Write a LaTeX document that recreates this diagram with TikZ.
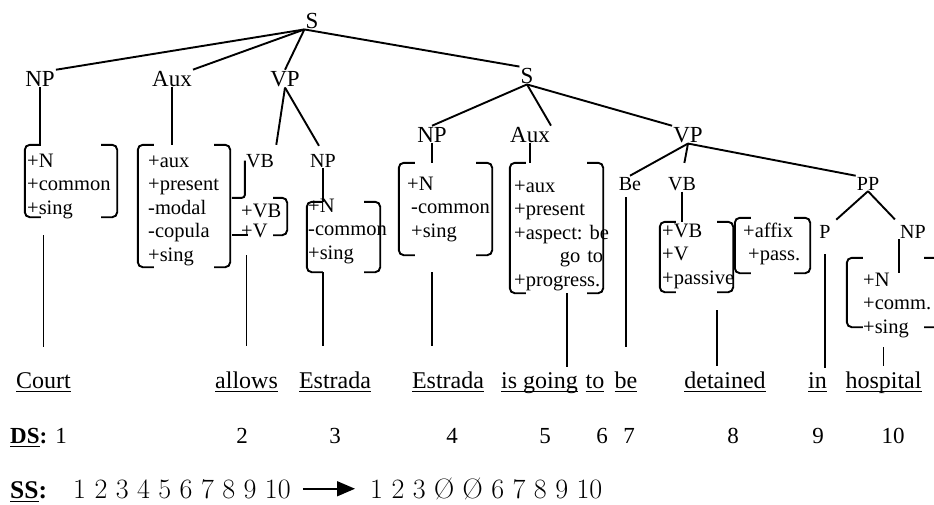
\documentclass[tikz,border=0pt]{standalone}
\usepackage{amsmath}
\usepackage{fontspec}
\newfontfamily\tnr{Liberation Serif}
\usetikzlibrary{fit,calc,arrows.meta}

\newcommand{\ulword}[1]{\underline{\smash[b]{#1}}}
\newcommand{\brackets}[1]{%
    \draw[brk] ([xshift=16pt]#1.north west) -- (#1.north west)
        -- (#1.south west) -- ([xshift=16pt]#1.south west);
    \draw[brk] ([xshift=-16pt]#1.north east) -- (#1.north east)
        -- (#1.south east) -- ([xshift=-16pt]#1.south east);}

\tikzset{
    tree/.style={line width=1.9pt},
    brk/.style={line width=1.9pt, rounded corners=5pt},
    lab/.style={font=\tnr\fontsize{23}{23}\selectfont, inner sep=1pt, anchor=base},
    sublab/.style={lab, font=\tnr\fontsize{20}{20}\selectfont},
    feat/.style={font=\tnr\fontsize{20.5}{23.5}\selectfont, align=left, text width=100pt,
        inner sep=0pt, anchor=north west, execute at begin node=\strut},
    featframe/.style={inner sep=0pt},
    word/.style={font=\tnr\fontsize{24}{24}\selectfont, inner sep=0pt, anchor=base},
    ds/.style={font=\tnr\fontsize{23}{23}\selectfont, inner sep=0pt, anchor=base},
    ss/.style={font=\fontsize{28}{28}\selectfont, inner sep=0pt, anchor=base west}
}

\begin{document}
\begin{tikzpicture}[x=1pt, y=-1pt]
    \useasboundingbox (0,0) rectangle (934,504);

    % tree labels
    \node[lab] (s) at (312,28) {S};
    \node[lab] (np) at (40,86) {NP};
    \node[lab] (aux) at (172,86) {Aux};
    \node[lab] (vp) at (285,86) {VP};
    \node[lab] (s2) at (527,83) {S};
    \node[sublab] (vb) at (260,167) {VB};
    \node[sublab] (npb) at (323,167) {NP};
    \node[lab] (np2) at (432,142) {NP};
    \node[lab] (aux2) at (530,142) {Aux};
    \node[lab] (vp2) at (688,142) {VP};
    \node[sublab] (Be) at (630,190) {Be};
    \node[sublab] (vb2) at (682,190) {VB};
    \node[sublab] (pp) at (868,190) {PP};
    \node[sublab] (p) at (825,238) {P};
    \node[sublab] (np3) at (913,238) {NP};

    \draw[tree] (s.south west) -- (np.north east);
    \draw[tree] (s.south west) -- (aux.north east);
    \draw[tree] (s.south west) -- (vp.north);
    \draw[tree] (s.south west) -- (s2.north west);
    \draw[tree, shorten >=8pt] (vp.south) -- (vb.north east);
    \draw[tree, shorten >=8pt] (vp.south) -- (npb.north);
    \draw[tree] (s2.south) -- (np2.north);
    \draw[tree] (s2.south) -- (aux2.north east);
    \draw[tree] (s2.south) -- (vp2.north west);
    \draw[tree] (vp2.south) -- (Be.north);
    \draw[tree, shorten >=13pt] (vp2.south) -- (vb2.north);
    \draw[tree] (vp2.south) -- (pp.north west);
    \draw[tree, shorten >=6pt] (pp.south) -- (p.north east);
    \draw[tree, shorten >=6pt] (pp.south) -- (np3.north west);

    % feature bundles
    \node[featframe, fit={(25,145) (117,217)}] (npB) {};
    \node[featframe, fit={(138,145) (230,267)}] (auxB) {};
    \node[featframe, fit={(232,198) (287,235)}] (vbB) {};
    \node[featframe, fit={(307,202) (380,272)}] (npbB) {};
    \node[featframe, fit={(399,163) (492,255)}] (np2B) {};
    \node[featframe, fit={(510,163) (603,293)}] (aux2B) {};
    \node[featframe, fit={(660,222) (733,292)}] (vb2B) {};
    \node[featframe, fit={(735,218) (810,273)}] (affB) {};
    \node[featframe, fit={(847,258) (940,327)}] (np3B) {};
    \brackets{npB}
    \brackets{auxB}
    \brackets{npbB}
    \brackets{np2B}
    \brackets{aux2B}
    \brackets{vb2B}
    \brackets{affB}
    \brackets{np3B}
    \draw[brk] ([xshift=-14pt]vbB.north east) -- (vbB.north east)
        -- (vbB.south east) -- ([xshift=-14pt]vbB.south east);
    \draw[brk] (vbB.south west) -- ([xshift=16pt]vbB.south west);

    \node[feat] (npT) at (27,150.5) {+N\\+common\\+sing};
    \node[feat] (auxT) at (148,150.5) {+aux\\+present\\-modal\\-copula\\+sing};
    \node[feat, font=\tnr\fontsize{20.5}{20}\selectfont] (vbT) at (241,203) {+VB\\+V};
    \node[feat] (npbT) at (308,195.5) {+N\\-common\\+sing};
    \node[feat] (np2T) at (407,173.5) {+N\\\hspace*{4pt}-common\\\hspace*{4pt}+sing};
    \node[feat, text width=89pt] (aux2T) at (514,175.5)
        {+aux\\+present\\+aspect:~be\\\hspace*{\fill}go~to\\+progress.};
    \node[feat] (vb2T) at (662,220.5) {+VB\\+V\\+passive};
    \node[feat] (affT) at (743,220.5) {+affix\\\hspace*{5pt}+pass.};
    \node[feat] (np3T) at (863,269.5) {+N\\+comm.\\+sing};

    \draw[tree] (np) -- (np |- npB.north);
    \draw[tree] (aux) -- (aux |- auxB.north);
    \draw[tree, rounded corners=3pt] (vb.west) |- (vbB.north west);
    \draw[tree] (npb) -- (npb |- npbB.north);
    \draw[tree] (np2) -- (np2 |- np2B.north);
    \draw[tree] (aux2) -- (aux2 |- aux2B.north);
    \draw[tree] (vb2) -- (vb2 |- vb2B.north);
    \draw[tree] (np3.south west) -- ($(np3.south west |- np3B.north)+(0,-15pt)$);

    % words
    \node[word] (wcourt) at (43.5,388) {\ulword{Court}};
    \node[word] (wallows) at (246.5,388) {\ulword{allows}};
    \node[word] (westr1) at (335,388) {\ulword{Estrada}};
    \node[word] (westr2) at (448,388) {\ulword{Estrada}};
    \node[word] (wgoing) at (539.5,388) {\ulword{is going}};
    \node[word] (wto) at (595,388) {\ulword{to}};
    \node[word] (wbe) at (626,388) {\ulword{be}};
    \node[word] (wdetained) at (725,388) {\ulword{detained}};
    \node[word] (win) at (817.5,388) {\ulword{in}};
    \node[word] (whospital) at (883.5,388) {\ulword{hospital}};

    \draw[tree, shorten <=18pt, shorten >=25pt] (npB.south -| wcourt) -- (wcourt.north);
    \draw[tree, shorten <=20pt, shorten >=25pt] (vbB.south -| wallows) -- (wallows.north);
    \draw[tree, shorten >=25pt] (npbB.south -| npb) -- (npb |- westr1.north);
    \draw[tree, shorten <=17pt, shorten >=25pt] (np2B.south -| np2) -- (np2 |- westr2.north);
    \draw[tree, shorten >=5pt] ($(aux2B.south east)+(-36pt,0)$)
        -- ($(aux2B.south east |- wgoing.north)+(-36pt,0)$);
    \draw[tree, shorten <=6pt, shorten >=24pt] (Be.south -| wbe) -- (wbe.north);
    \draw[tree, shorten <=18pt, shorten >=5pt] ($(vb2B.south east)+(-16pt,0)$)
        -- ($(vb2B.south east |- wdetained.north)+(-16pt,0)$);
    \draw[tree, shorten <=15pt, shorten >=4pt] (p.south) -- (p |- win.north);
    \draw[tree, shorten <=20pt, shorten >=5pt] (np3B.south -| whospital) -- (whospital.north);

    % DS and SS rows
    \node[ds, anchor=base west] (dsl) at (10,443) {\ulword{\textbf{DS}}\textbf{:}};
    \foreach \n/\x in {1/61, 2/242, 3/335, 4/452, 5/545, 6/602, 7/629, 8/733, 9/818, 10/893}
        \node[ds] (ds\n) at (\x,443) {\n};

    \node[ds, font=\tnr\bfseries\fontsize{25.5}{25.5}\selectfont, anchor=base west] (ssl)
        at (10,498) {\ulword{SS}:};
    \node[ss] (ssa) at (73,498) {1 2 3 4 5 6 7 8 9 10};
    \node[ss] (ssb) at (370,498) {1 2 3 Ø Ø 6 7 8 9 10};
    \draw[-{Triangle[length=18pt,width=15pt]}, line width=1.6pt, shorten <=12pt, shorten >=15pt]
        (ssa.east) -- (ssa.east -| ssb.west);
\end{tikzpicture}
\end{document}
